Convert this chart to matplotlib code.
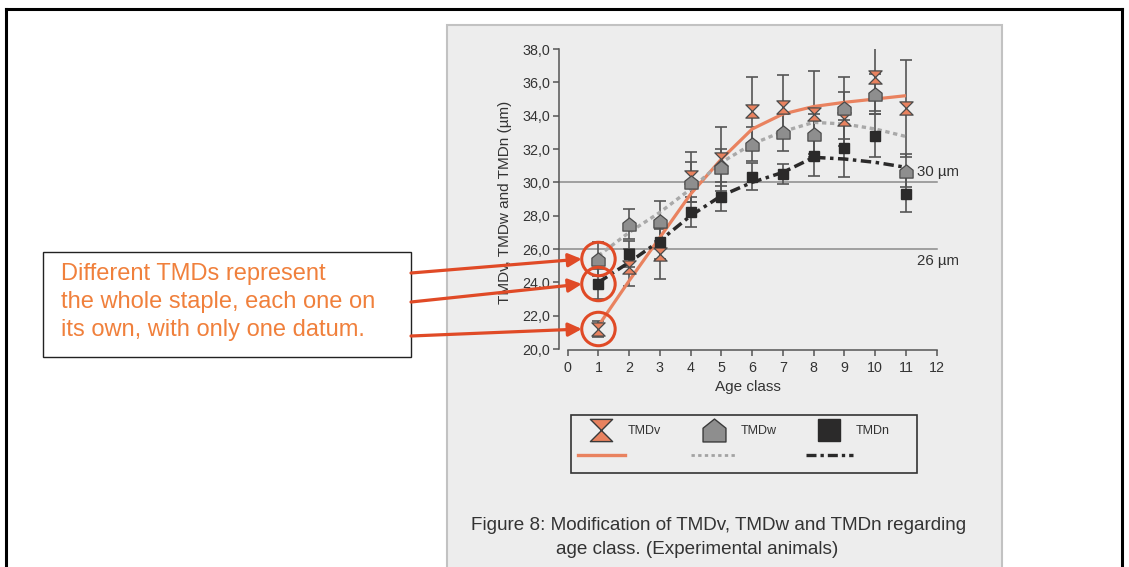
import matplotlib
matplotlib.use('Agg')
import matplotlib.pyplot as plt
from matplotlib.path import Path
from matplotlib.lines import Line2D
from matplotlib.patches import Rectangle

plt.rcParams['font.family'] = ['Liberation Sans', 'DejaVu Sans']

# mean diameters per age class (µm)
age = [1, 2, 3, 4, 5, 6, 7, 8, 9, 10, 11]
tmdv = [21.2, 24.9, 25.7, 30.3, 31.4, 34.3, 34.55, 34.1, 33.8, 36.3, 34.45]
tmdw = [25.4, 27.5, 27.7, 30.0, 30.9, 32.3, 33.0, 32.9, 34.45, 35.3, 30.7]
tmdn = [23.9, 25.7, 26.4, 28.2, 29.15, 30.35, 30.5, 31.6, 32.05, 32.8, 29.3]

# standard deviations
err_v = [0.5, 1.1, 1.5, 1.5, 1.9, 2.0, 1.9, 2.6, 1.6, 2.0, 2.9]
err_w = [1.0, 0.9, 1.2, 1.2, 1.1, 1.0, 1.1, 1.2, 1.85, 1.2, 1.0]
err_n = [0.9, 0.8, 1.0, 0.9, 0.85, 0.8, 0.6, 1.2, 1.7, 1.3, 1.1]

# trend curves
fit_v = [21.4, 24.1, 26.7, 29.3, 31.4, 33.2, 34.1, 34.55, 34.8, 35.0, 35.2]
fit_w = [25.6, 27.0, 28.2, 29.6, 31.2, 32.3, 33.05, 33.6, 33.5, 33.2, 32.75]
fit_n = [24.0, 25.2, 26.5, 28.0, 29.2, 30.0, 30.6, 31.5, 31.4, 31.2, 30.9]

y_ticks = [20, 22, 24, 26, 28, 30, 32, 34, 36, 38]
y_ticklabels = ['20,0', '22,0', '24,0', '26,0', '28,0', '30,0', '32,0', '34,0', '36,0', '38,0']
x_ticks = list(range(0, 13))
ref_levels = [30, 26]
ref_labels = ['30 µm', '26 µm']

note = 'Different TMDs represent\nthe whole staple, each one on\nits own, with only one datum.'
caption1 = 'Figure 8: Modification of TMDv, TMDw and TMDn regarding'
caption2 = 'age class. (Experimental animals)'

orange = '#e9825f'
red = '#e04a26'
grey = '#8e8e8e'
dark = '#2b2a2a'
txt = '#333333'

hourglass = Path([(-1, 1), (1, 1), (0, 0), (-1, 1), (-1, -1), (1, -1), (0, 0), (-1, -1)],
                 [Path.MOVETO, Path.LINETO, Path.LINETO, Path.CLOSEPOLY,
                  Path.MOVETO, Path.LINETO, Path.LINETO, Path.CLOSEPOLY])
house = Path([(-1, -1), (1, -1), (1, 0.2), (0, 1), (-1, 0.2), (-1, -1)],
             [Path.MOVETO, Path.LINETO, Path.LINETO, Path.LINETO, Path.LINETO, Path.CLOSEPOLY])

W, H = 1129, 567
fig = plt.figure(figsize=(W / 100, H / 100), dpi=100)
fig.patch.set_facecolor('white')


def fx(px):
    return px / W


def fy(py):
    return 1 - py / H


# outer frame
for xs, ys in [([6, 1122], [9, 9]), ([6, 6], [9, 570]), ([1122, 1122], [9, 570])]:
    fig.add_artist(Line2D([fx(x) for x in xs], [fy(y) for y in ys], color='black', lw=2.2, zorder=-4))

# grey figure panel
fig.add_artist(Rectangle((fx(447), fy(580)), fx(1002) - fx(447), fy(25) - fy(580),
                         facecolor='#ededed', edgecolor='#c2c2c2', lw=1.5, zorder=-5))

ax = fig.add_axes([fx(567.7), fy(349), fx(369), 300 / H])
ax.set_zorder(3)
ax.set_facecolor('none')
ax.set_xlim(0, 12)
ax.set_ylim(20, 38)

for sp in ['top', 'right']:
    ax.spines[sp].set_visible(False)
ax.spines['left'].set_position(('outward', 6.5))
ax.spines['bottom'].set_position(('outward', 1))
for sp in ['left', 'bottom']:
    ax.spines[sp].set_color('#555555')
    ax.spines[sp].set_linewidth(1.1)

ax.set_yticks(y_ticks)
ax.set_yticklabels(y_ticklabels)
ax.set_xticks(x_ticks)
ax.tick_params(axis='both', colors='#555555', labelcolor=txt, labelsize=10.3, length=4, width=1.1)
ax.tick_params(axis='y', pad=2)
ax.tick_params(axis='x', pad=4)

ax.set_xlabel('Age class', fontsize=11, color=txt)
ax.xaxis.set_label_coords(0.489, -0.127)
ax.xaxis.label.set_va('center')
ax.set_ylabel('TMDv, TMDw and TMDn (µm)', fontsize=11, color=txt)
ax.yaxis.set_label_coords(-0.17, 0.49)
ax.yaxis.label.set_va('center')

for lvl, lab, dy in zip(ref_levels, ref_labels, [0.65, -0.72]):
    ax.axhline(lvl, xmin=-0.024, xmax=1, color='#8a8a8a', lw=1.1, clip_on=False, zorder=1)
    ax.text(11.36, lvl + dy, lab, fontsize=10.8, color=txt, va='center', ha='left', clip_on=False)

eb = dict(fmt='none', ecolor='#555555', elinewidth=1.2, capsize=4.3, capthick=1.2, zorder=2)
ax.errorbar(age, tmdv, yerr=err_v, **eb)
ax.errorbar(age, tmdw, yerr=err_w, **eb)
ax.errorbar(age, tmdn, yerr=err_n, **eb)

ax.plot(age, fit_v, color=orange, lw=2.3, solid_capstyle='butt', zorder=3)
ax.plot(age, fit_w, color='#a9a9a9', lw=2.4, ls=(0, (1.3, 1.1)), zorder=3)
ax.plot(age, fit_n, color=dark, lw=2.5, ls=(0, (3, 1.3, 1, 1.3)), zorder=3)

ax.plot(age, tmdv, ls='none', marker=hourglass, ms=9.5, mfc=orange, mec='#4a4a4a', mew=0.9, zorder=4)
ax.plot(age, tmdw, ls='none', marker=house, ms=9.5, mfc=grey, mec='#4a4a4a', mew=0.9, zorder=4)
ax.plot(age, tmdn, ls='none', marker='s', ms=7.2, mfc=dark, mec=dark, zorder=4)

# highlight the single-datum first age class
first = [tmdw[0], tmdn[0], tmdv[0]]
ax.scatter([age[0]] * 3, first, s=580, facecolors='none', edgecolors=red, linewidths=2.2,
           zorder=5, clip_on=False)
for v, sy in zip(first, [273, 302, 336]):
    ax.annotate('', xy=(0.46, v), xycoords='data', xytext=(411, H - sy), textcoords='figure pixels',
                arrowprops=dict(arrowstyle='-|>', color=red, lw=2.3, mutation_scale=20,
                                shrinkA=0, shrinkB=0), zorder=5, annotation_clip=False)

# note box
fig.add_artist(Rectangle((fx(43), fy(357)), fx(411) - fx(43), fy(252) - fy(357),
                         facecolor='white', edgecolor='#222222', lw=1.0, zorder=-3))
fig.text(fx(61), fy(302), note, fontsize=17, color='#f0803c', ha='left', va='center', linespacing=1.38)

# legend: markers on the first row, curves on the second
fig.add_artist(Rectangle((fx(571), fy(472.5)), fx(917) - fx(571), fy(415) - fy(472.5),
                         facecolor='none', edgecolor='#333333', lw=1.2))
handles = [
    Line2D([], [], ls='none', marker=hourglass, ms=16, mfc=orange, mec='#3a3a3a', mew=1.0),
    Line2D([], [], color=orange, lw=2.4),
    Line2D([], [], ls='none', marker=house, ms=16.5, mfc=grey, mec='#3a3a3a', mew=1.0),
    Line2D([], [], color='#a3a3a3', lw=2.0, ls=(0, (1.2, 1.2))),
    Line2D([], [], ls='none', marker='s', ms=15.5, mfc=dark, mec=dark),
    Line2D([], [], color=dark, lw=2.4, ls=(0, (3, 1.2, 1, 1.2))),
]
labels = ['TMDv', '', 'TMDw', '', 'TMDn', '']
fig.legend(handles, labels, ncol=3, loc='upper left', bbox_to_anchor=(fx(571), fy(418)),
           frameon=False, fontsize=9, labelcolor=txt, handlelength=3.75, handletextpad=0.25,
           columnspacing=2.35, labelspacing=1.1, borderpad=0.55, borderaxespad=0)

fig.text(fx(471), fy(525), caption1, fontsize=13.6, color=txt, ha='left', va='center')
fig.text(fx(556), fy(549), caption2, fontsize=13.6, color=txt, ha='left', va='center')

fig.savefig('out.png', dpi=100)
